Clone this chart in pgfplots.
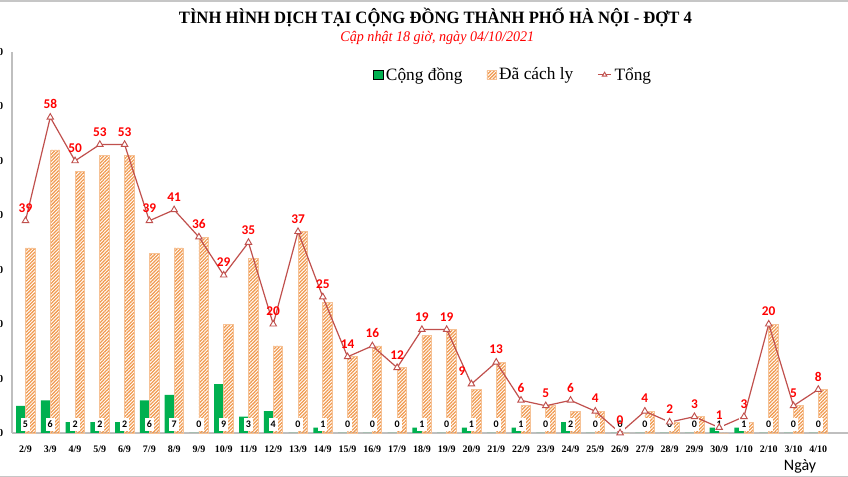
\documentclass[border=0pt]{standalone}
\usepackage{pgfplots}
\pgfplotsset{compat=1.18}
\usepackage{pgfplotstable}
\usetikzlibrary{patterns.meta}
\usepackage{fontspec}
\setmainfont{Liberation Serif}
\newfontfamily\carlito{Carlito}
\newfontfamily\titlefont[FakeStretch=0.96]{Liberation Serif}
\definecolor{cgreen}{HTML}{00B050}
\definecolor{chatch}{HTML}{F09A50}
\definecolor{cline}{HTML}{C0504D}
\definecolor{clabel}{HTML}{FF0000}
\definecolor{caxis}{HTML}{BFBFBF}

\pgfplotsset{
  sqlegend/.style={legend image code/.code={\draw[##1] (0pt,-3.5pt) rectangle (7pt,3.5pt);}},
  lnlegend/.style={legend image code/.code={\draw[mark repeat=2, mark phase=2, ##1, mark size=2pt] plot coordinates {(0pt,0pt) (5pt,0pt) (10pt,0pt)};}},
}

\pgfplotstableread{
x total comm iso dx
0 39 5 34 0
1 58 6 52 0
2 50 2 48 0
3 53 2 51 0
4 53 2 51 0
5 39 6 33 0
6 41 7 34 0
7 36 0 36 0
8 29 9 20 0
9 35 3 32 0
10 20 4 16 0
11 37 0 37 0
12 25 1 24 0
13 14 0 14 0
14 16 0 16 0
15 12 0 12 0
16 19 1 18 0
17 19 0 19 0
18 9 1 8 -7
19 13 0 13 0
20 6 1 5 0
21 5 0 5 0
22 6 2 4 0
23 4 0 4 0
24 0 0 0 0
25 4 0 4 0
26 2 0 2 0
27 3 0 3 0
28 1 1 0 0
29 3 1 2 0
30 20 0 20 0
31 5 0 5 0
32 8 0 8 0
}\data

\begin{document}
\begin{tikzpicture}
\begin{axis}[
  scale only axis,
  width=627pt, height=285.75pt,
  xmin=-0.545, xmax=33.2,
  ymin=0, ymax=70,
  /pgf/number format/assume math mode=true,
  axis x line*=bottom, axis y line*=left,
  axis line style={-, caxis, line width=0.8pt},
  xtick={0,...,32},
  xticklabels={2/9,3/9,4/9,5/9,6/9,7/9,8/9,9/9,10/9,11/9,12/9,13/9,14/9,15/9,16/9,17/9,18/9,19/9,20/9,21/9,22/9,23/9,24/9,25/9,26/9,27/9,28/9,29/9,30/9,1/10,2/10,3/10,4/10},
  ytick={0,10,...,70},
  tick style={draw=none},
  x tick label style={font=\bfseries\fontsize{7.5}{9}\selectfont, yshift=-6pt},
  y tick label style={font=\bfseries\fontsize{8}{10}\selectfont, anchor=east, xshift=-3pt},
  xlabel={Ngày},
  xlabel style={font=\carlito\fontsize{12}{14}\selectfont, at={(axis description cs:0.9426,0)}, anchor=center, yshift=-25pt},
  clip=false,
  legend style={at={(axis description cs:0.6,0.94)}, anchor=center, draw=none, fill=none,
    legend columns=3, font=\fontsize{13}{15}\selectfont,
    /tikz/every even column/.append style={column sep=16pt}},
]
\addplot[ybar, bar width=7.1pt, bar shift=-3.55pt, fill=cgreen, draw=none,
  nodes near coords,
  visualization depends on={y \as \rawy},
  every node near coord/.append style={anchor=center, fill=white, inner xsep=1.6pt, inner ysep=2.4pt,
     font=\carlito\bfseries\fontsize{7.5}{9}\selectfont, text=black, yshift={(1.56-\rawy)*4.082pt}},
  sqlegend]
  table[x=x, y=comm]{\data};
\addlegendentry{Cộng đồng}
\addplot[ybar, bar width=7.1pt, bar shift=3.55pt, draw=chatch!60, line width=0.5pt,
  pattern={Lines[angle=45, distance=1.8pt, line width=0.95pt]}, pattern color=chatch,
  sqlegend]
  table[x=x, y=iso]{\data};
\addlegendentry{Đã cách ly}
\addplot[cline, line width=0.9pt, mark=triangle*, mark size=2.8pt,
  mark options={fill=white, line width=0.7pt},
  nodes near coords, point meta=y,
  visualization depends on={\thisrow{dx} \as \dx},
  every node near coord/.append style={font=\carlito\bfseries\fontsize{10}{12}\selectfont, text=clabel, xshift=\dx pt, yshift=2.5pt},
  lnlegend]
  table[x=x, y=total]{\data};
\addlegendentry{Tổng}
\end{axis}
\node[font=\titlefont\bfseries\fontsize{13}{15}\selectfont] at (317.6pt,312pt) {TÌNH HÌNH DỊCH TẠI CỘNG ĐỒNG THÀNH PHỐ HÀ NỘI - ĐỢT 4};
\node[font=\titlefont\itshape\fontsize{11}{13}\selectfont, text=clabel] at (319pt,296pt) {Cập nhật 18 giờ, ngày 04/10/2021};
\draw[gray!45, line width=1.2pt] (-9pt,324.2pt) -- (627pt,324.2pt);
\draw[gray!45, line width=1pt] (-9pt,-32.4pt) -- (627pt,-32.4pt);
\pgfresetboundingbox
\useasboundingbox (-9pt,-33pt) rectangle (627pt,324.75pt);
\end{tikzpicture}
\end{document}
